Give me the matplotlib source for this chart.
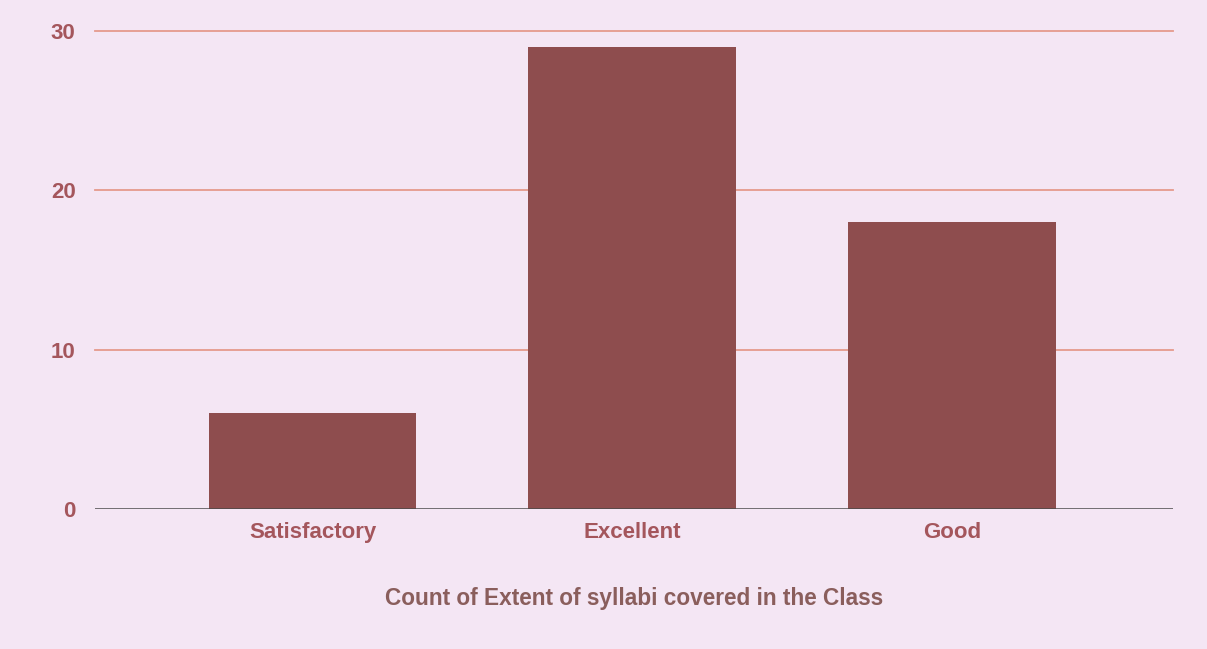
import matplotlib
matplotlib.use("Agg")
import matplotlib.pyplot as plt

categories = ["Satisfactory", "Excellent", "Good"]
counts = [6, 29, 18]
yticks = [0, 10, 20, 30]
title = "Count of Extent of syllabi covered in the Class"

bg = "#F4E6F4"
bar_color = "#8E4D4E"
grid_color = "#E59A8C"
label_color = "#A4565C"
title_color = "#8A5E5C"

fig = plt.figure(figsize=(12.07, 6.49), dpi=100, facecolor=bg)
ax = fig.add_axes([0.0787, 0.2157, 0.8931, 0.7365], facecolor=bg)

x = list(range(len(categories)))
ax.bar(x, counts, width=0.65, color=bar_color, zorder=3)

ax.set_xlim(-0.68, 2.69)
ax.set_ylim(0, 30)
ax.set_yticks(yticks)
ax.set_yticklabels([str(t) for t in yticks])
for t in yticks[1:]:
    ax.axhline(t, color=grid_color, lw=1.3, zorder=1, clip_on=False)
ax.axhline(0, color="#4A4A4A", lw=1.8, zorder=4)

for s in ax.spines.values():
    s.set_visible(False)
ax.tick_params(axis="both", length=0)
ax.tick_params(axis="y", pad=14)
ax.tick_params(axis="x", pad=9)
ax.set_xticks(x)
ax.set_xticklabels(categories)
for lbl in ax.get_xticklabels() + ax.get_yticklabels():
    lbl.set_fontsize(16)
    lbl.set_fontweight("bold")
    lbl.set_color(label_color)
    lbl.set_fontfamily("Liberation Sans")

fig.text(0.525, 0.078, title, ha="center", va="center", fontsize=16.3,
         fontweight="bold", color=title_color, family="Liberation Sans")

fig.savefig("out.png", dpi=100, facecolor=bg)
